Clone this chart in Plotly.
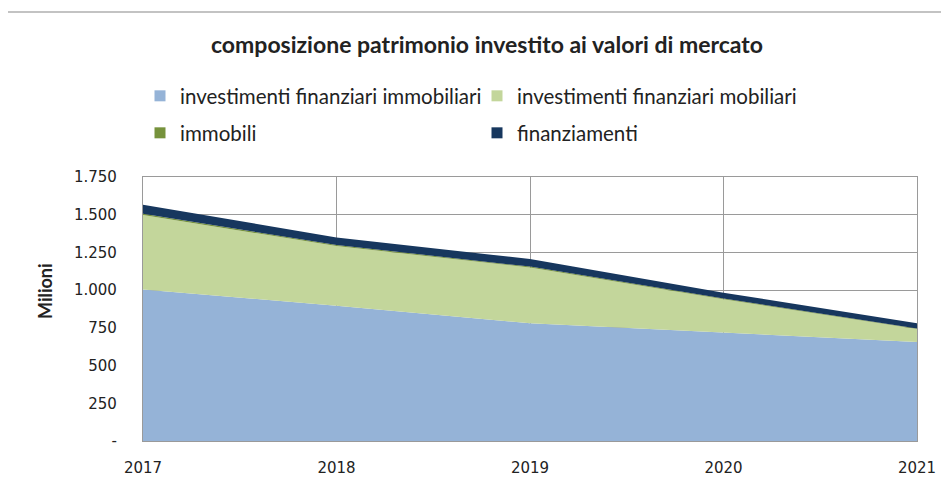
import plotly.graph_objects as go

years = [2017, 2018, 2019, 2020, 2021]
immobiliari = [1005, 897, 780, 720, 657]
mobiliari = [493, 395, 370, 220, 85]
immobili = [8, 7, 6, 5, 4]
finanziamenti = [60, 50, 50, 38, 35]

tick_vals = [0, 250, 500, 750, 1000, 1250, 1500, 1750]
tick_text = ["-", "250", "500", "750", "1.000", "1.250", "1.500", "1.750"]

names = ["investimenti finanziari immobiliari", "investimenti finanziari mobiliari",
         "immobili", "finanziamenti"]
colors = ["#95B3D7", "#C3D69B", "#76923C", "#17375E"]
series = [immobiliari, mobiliari, immobili, finanziamenti]
legends = ["legend", "legend", "legend2", "legend2"]

TXT = "Lato, 'Open Sans', sans-serif"
TICK = "'DejaVu Sans', Verdana, sans-serif"

# page body has an 8px margin: work in reference pixels and subtract it
OFF = 8
W, H = 949 - OFF, 487 - OFF
L, R, T, B = 143 - OFF, 917 - OFF, 177 - OFF, 441 - OFF
pw, ph = R - L, B - T


def px(x):
    return (x - OFF - L) / pw


def py(y):
    return (B - (y - OFF)) / ph


fig = go.Figure()
for n, c, s in zip(names, colors, series):
    fig.add_trace(go.Scatter(
        x=years, y=s, name=n, stackgroup="one", mode="lines",
        line=dict(width=0, color=c), fillcolor=c, showlegend=False,
    ))
for n, c, lg in zip(names, colors, legends):
    fig.add_trace(go.Scatter(
        x=[None], y=[None], name=n, mode="markers", legend=lg,
        marker=dict(symbol="square", size=11, color=c),
    ))

leg_common = dict(orientation="h", xanchor="left", yanchor="middle",
                  font=dict(size=20.5, family=TXT, color="#222"),
                  entrywidth=292, entrywidthmode="pixels",
                  bgcolor="rgba(0,0,0,0)", traceorder="normal",
                  itemclick=False, itemwidth=30)

fig.update_layout(
    width=W, height=H,
    margin=dict(l=L, r=W - R, t=T, b=H - B, autoexpand=False),
    paper_bgcolor="white", plot_bgcolor="white",
    font=dict(family=TXT, size=15, color="#222"),
    title=dict(text="<b>composizione patrimonio investito ai valori di mercato</b>",
               x=(487 - OFF) / W, xanchor="center", y=1 - (45 - OFF) / H, yanchor="middle",
               yref="container", xref="container",
               font=dict(size=23, family=TXT, color="#222")),
    legend=dict(x=px(140), y=py(96), **leg_common),
    legend2=dict(x=px(140), y=py(133), **leg_common),
    xaxis=dict(range=[2017, 2021], tickvals=years, ticktext=[str(y) for y in years],
               showgrid=True, gridcolor="#9a9a9a", gridwidth=1.3,
               showline=True, linecolor="#9a9a9a", linewidth=1.3, mirror=True,
               ticks="", ticklabelstandoff=13,
               tickfont=dict(size=15, family=TICK, color="#222"), zeroline=False),
    yaxis=dict(range=[0, 1750], tickvals=tick_vals, ticktext=tick_text,
               showgrid=True, gridcolor="#9a9a9a", gridwidth=1.3,
               showline=True, linecolor="#9a9a9a", linewidth=1.3, mirror=True,
               ticks="", ticklabelstandoff=22,
               tickfont=dict(size=15, family=TICK, color="#222"), zeroline=False),
    showlegend=True,
)
fig.add_annotation(text="<b>Milioni</b>", xref="paper", yref="paper",
                   x=px(45), y=py(291), xanchor="center", yanchor="middle",
                   textangle=-90, showarrow=False,
                   font=dict(size=18, family=TXT, color="#222"))
fig.add_shape(type="rect", xref="paper", yref="paper",
              x0=px(5), x1=px(1000), y0=py(600), y1=py(12),
              line=dict(color="#b0b0b0", width=1.5), fillcolor="rgba(0,0,0,0)", layer="below")
fig.write_html("out.html")
